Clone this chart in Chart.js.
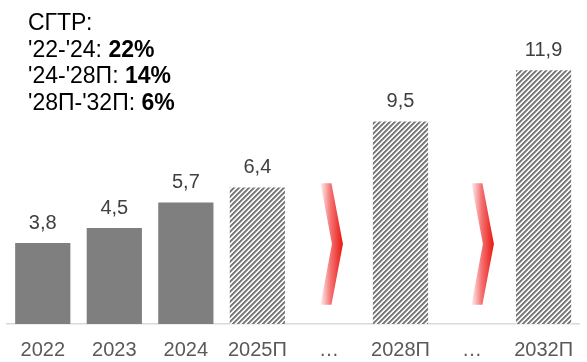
<!DOCTYPE html>
<html>
<head>
<meta charset="utf-8">
<script src="https://cdn.jsdelivr.net/npm/chart.js@4/dist/chart.umd.min.js"></script>
<style>
  html, body { margin: 0; padding: 0; background: #fff; }
  #wrap { width: 587px; height: 362px; position: relative; }
</style>
</head>
<body>
<div id="wrap"><canvas id="chart"></canvas></div>
<script>
// Categories along the x axis ("…" slots carry the red chevrons)
const years = ['2022', '2023', '2024', '2025П', '…', '2028П', '…', '2032П'];
// Reported values and forecast values
const actual = [3.8, 4.5, 5.7, null, null, null, null, null];
const forecast = [null, null, null, 6.4, null, 9.5, null, 11.9];
// CAGR block in the upper left corner
const cagrTitle = 'СГТР:';
const cagrPeriods = ["'22-'24", "'24-'28П", "'28П-'32П"];
const cagrValues = [22, 14, 6];
// Chevrons: category index, shift within the slot, value range they span
const arrowSlots = [4, 6];
const arrowShift = [0.035, 0.145];
const arrowRange = [0.9, 6.6];

const FONT = '"Liberation Sans", Arial, sans-serif';

const canvas = document.getElementById('chart');
const ctx = canvas.getContext('2d');

// diagonal hatch for forecast bars
function makeHatch() {
    const tile = document.createElement('canvas');
    tile.width = 5;
    tile.height = 5;
    const g = tile.getContext('2d');
    const shades = ['#7a7a7a', '#7a7a7a', '#a5a5a5', '#ffffff', '#ececec'];
    for (let y = 0; y < 5; y++) {
        for (let x = 0; x < 5; x++) {
            g.fillStyle = shades[(x + y) % 5];
            g.fillRect(x, y, 1, 1);
        }
    }
    return ctx.createPattern(tile, 'repeat');
}

const fmt = v => v.toFixed(1).replace('.', ',');

const valueLabels = {
    id: 'valueLabels',
    afterDatasetsDraw(chart) {
        const c = chart.ctx;
        c.save();
        c.font = '20px ' + FONT;
        c.fillStyle = '#404040';
        c.textAlign = 'center';
        c.textBaseline = 'alphabetic';
        chart.data.datasets.forEach((ds, di) => {
            chart.getDatasetMeta(di).data.forEach((bar, i) => {
                const v = ds.data[i];
                if (v == null) return;
                c.fillText(fmt(v), bar.x, bar.y - 14.5);
            });
        });
        c.restore();
    }
};

const chevrons = {
    id: 'chevrons',
    afterDatasetsDraw(chart) {
        const c = chart.ctx;
        const xs = chart.scales.x;
        const ys = chart.scales.y;
        const step = xs.getPixelForValue(1) - xs.getPixelForValue(0);
        const top = ys.getPixelForValue(arrowRange[1]);
        const bottom = ys.getPixelForValue(arrowRange[0]);
        const mid = (top + bottom) / 2;
        arrowSlots.forEach((slot, k) => {
            const cx = xs.getPixelForValue(slot) + arrowShift[k] * step;
            const left = cx - 11;
            const tip = cx + 11.5;
            const grad = c.createLinearGradient(left, 0, tip, 0);
            grad.addColorStop(0, '#fff2f2');
            grad.addColorStop(0.45, '#f47373');
            grad.addColorStop(1, '#e8160e');
            c.save();
            c.fillStyle = grad;
            c.beginPath();
            c.moveTo(left, top);
            c.lineTo(left + 11, top);
            c.lineTo(tip, mid);
            c.lineTo(left + 11, bottom);
            c.lineTo(left, bottom);
            c.lineTo(left + 11.5, mid);
            c.closePath();
            c.fill();
            c.restore();
        });
    }
};

const cagrBlock = {
    id: 'cagrBlock',
    afterDraw(chart) {
        const c = chart.ctx;
        const x0 = 28;
        const lead = 26.5;
        let y = 30;
        c.save();
        c.fillStyle = '#000000';
        c.textAlign = 'left';
        c.textBaseline = 'alphabetic';
        c.font = '23px ' + FONT;
        c.fillText(cagrTitle, x0, y);
        cagrPeriods.forEach((p, i) => {
            y += lead;
            const head = p + ': ';
            c.font = '23px ' + FONT;
            c.fillText(head, x0, y);
            const w = c.measureText(head).width;
            c.font = 'bold 23px ' + FONT;
            c.fillText(cagrValues[i] + '%', x0 + w, y);
        });
        c.restore();
    }
};

const hatch = makeHatch();

new Chart(ctx, {
    type: 'bar',
    data: {
        labels: years,
        datasets: [
            {
                label: 'Факт',
                data: actual,
                backgroundColor: '#7f7f7f',
                borderWidth: 0,
                grouped: false,
                barPercentage: 0.772,
                categoryPercentage: 1
            },
            {
                label: 'Прогноз',
                data: forecast,
                backgroundColor: hatch,
                borderWidth: 0,
                grouped: false,
                barPercentage: 0.772,
                categoryPercentage: 1
            }
        ]
    },
    options: {
        responsive: true,
        maintainAspectRatio: false,
        animation: false,
        devicePixelRatio: 1,
        layout: {
            padding: { left: 7, right: 0, top: 0, bottom: 0 }
        },
        plugins: {
            legend: { display: false },
            tooltip: { enabled: false }
        },
        scales: {
            x: {
                grid: { display: false, drawTicks: false },
                border: { display: true, color: '#d9d9d9', width: 1.5 },
                ticks: {
                    color: '#595959',
                    font: { family: FONT, size: 20 },
                    padding: 14,
                    maxRotation: 0,
                    autoSkip: false
                },
                afterFit(scale) {
                    scale.height = 38;
                }
            },
            y: {
                display: false,
                min: 0,
                max: 15.2
            }
        }
    },
    plugins: [valueLabels, chevrons, cagrBlock]
});
</script>
</body>
</html>
